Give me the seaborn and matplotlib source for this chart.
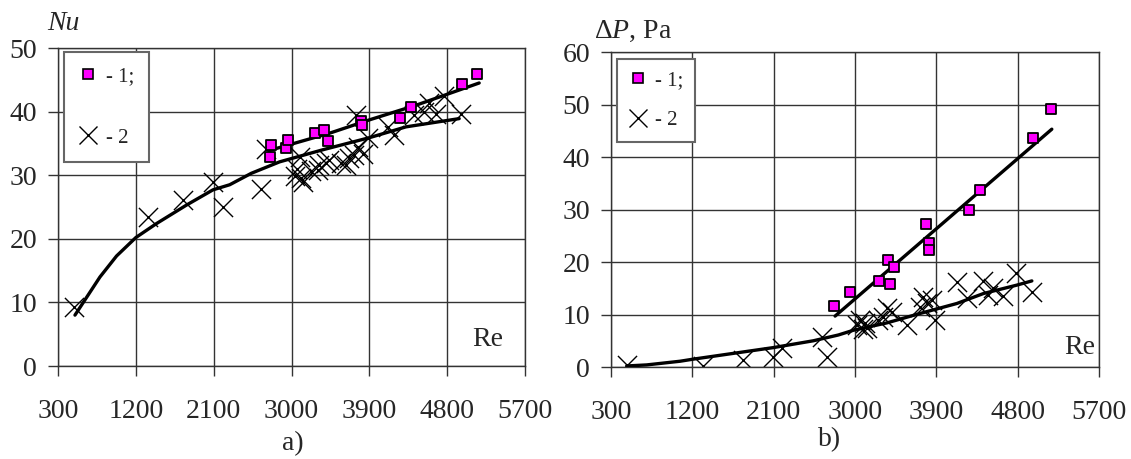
import matplotlib
matplotlib.use("Agg")
import matplotlib.pyplot as plt
import seaborn as sns
import pandas as pd
from matplotlib.lines import Line2D

# panel a) Nu vs Re
nu_re_1 = [2754, 2766, 2939, 2958, 3266, 3381, 3420, 3805, 3816, 4258, 4381, 4966, 5150]
nu_val_1 = [32.9, 34.7, 34.2, 35.6, 36.6, 37.1, 35.4, 38.6, 37.9, 39.0, 40.8, 44.3, 45.9]
nu_re_2 = [485, 1342, 1746, 2092, 2208, 2650, 2708, 3040, 3060, 3093, 3112, 3131, 3227,
           3304, 3323, 3400, 3439, 3574, 3631, 3670, 3727, 3747, 3766, 3823, 3881, 4112,
           4189, 4420, 4535, 4593, 4670, 4766, 4958]
nu_val_2 = [9.2, 23.4, 26.1, 29.0, 25.0, 27.9, 34.1, 29.8, 31.0, 32.9, 29.6, 29.0, 30.6,
            30.8, 31.6, 31.9, 32.4, 31.9, 31.6, 32.7, 33.2, 39.5, 34.5, 33.4, 35.8, 37.6,
            36.3, 39.5, 40.0, 41.3, 39.7, 42.4, 39.7]
nu_fit_re_1 = [2746, 3439, 3900, 4439, 5170]
nu_fit_1 = [33.9, 36.6, 38.7, 41.0, 44.5]
nu_fit_re_2 = [496, 785, 977, 1200, 1439, 1785, 2092, 2285, 2535, 2862, 3362, 3900, 4323, 4939]
nu_fit_2 = [8.0, 14.0, 17.3, 20.2, 22.4, 25.3, 27.7, 28.5, 30.3, 32.1, 34.0, 35.9, 37.6, 38.9]

# panel b) pressure drop vs Re
dp_re_1 = [2769, 2946, 3270, 3370, 3389, 3433, 3784, 3821, 3821, 4266, 4385, 4968, 5168]
dp_val_1 = [11.7, 14.2, 16.3, 20.4, 15.9, 19.0, 27.2, 23.7, 22.3, 29.9, 33.7, 43.6, 49.1]
dp_re_2 = [474, 1322, 1758, 2097, 2190, 2632, 2688, 3020, 3056, 3090, 3110, 3130, 3259,
           3314, 3352, 3407, 3573, 3720, 3757, 3795, 3850, 3887, 4127, 4238, 4422, 4477,
           4532, 4643, 4784, 4957]
dp_val_2 = [0.4, 0.1, 1.3, 2.0, 3.6, 5.8, 2.0, 8.0, 9.0, 7.2, 8.3, 7.5, 9.0,
            9.6, 11.2, 10.5, 8.0, 11.5, 13.4, 12.1, 12.8, 9.0, 16.1, 13.1, 16.3, 13.7,
            15.0, 13.6, 18.0, 14.2]
dp_fit_re_1 = [2780, 5178]
dp_fit_1 = [9.7, 45.3]
dp_fit_re_2 = [474, 695, 1064, 1211, 1654, 2097, 2540, 2816, 2982, 3352, 3720, 4127, 4422, 4791, 4957]
dp_fit_2 = [0.2, 0.4, 1.1, 1.5, 2.6, 3.7, 5.0, 6.1, 7.0, 8.4, 10.2, 12.1, 14.0, 15.6, 16.4]

x_ticks = [300, 1200, 2100, 3000, 3900, 4800, 5700]
legend_labels = ["- 1;", "- 2"]

sns.set_theme(style="white")
plt.rcParams["font.family"] = ["Liberation Serif", "DejaVu Serif"]
plt.rcParams["mathtext.fontset"] = "custom"
plt.rcParams["mathtext.rm"] = "Liberation Serif"
plt.rcParams["mathtext.it"] = "Liberation Serif:italic"

MAGENTA = "#FF00FF"
GRID = "#333333"
FS = 20

fig = plt.figure(figsize=(11.31, 4.59), dpi=100)
ax_a = fig.add_axes([0.0513, 0.2026, 0.4129, 0.6928])
ax_b = fig.add_axes([0.5402, 0.2004, 0.4315, 0.6863])


def draw_panel(ax, re1, v1, re2, v2, fre1, f1, fre2, f2):
    sns.lineplot(x=fre2, y=f2, ax=ax, color="black", lw=2.4, estimator=None, sort=False, zorder=3)
    sns.lineplot(x=fre1, y=f1, ax=ax, color="black", lw=2.4, estimator=None, sort=False, zorder=3)
    sns.scatterplot(x=re2, y=v2, ax=ax, marker="x", s=190, color="black", linewidth=1.0, zorder=2)
    sns.scatterplot(x=re1, y=v1, ax=ax, marker="s", s=62, color=MAGENTA,
                    edgecolor="black", linewidth=1.3, zorder=4)
    ax.set_xlim(300, 5700)
    ax.set_xticks(x_ticks)
    ax.grid(True, color=GRID, lw=1.0)
    ax.set_axisbelow(True)
    for sp in ax.spines.values():
        sp.set_color(GRID)
        sp.set_linewidth(1.0)
    ax.tick_params(axis="both", which="both", direction="out", length=7, width=1,
                   color=GRID, labelsize=FS, bottom=True, left=True)
    ax.tick_params(axis="x", pad=17)
    ax.tick_params(axis="y", pad=8)
    ax.set_xlabel("")
    ax.set_ylabel("")


def add_legend(ax, anchor, spacing, pad):
    handles = [
        Line2D([], [], ls="none", marker="s", markersize=6.5, markerfacecolor=MAGENTA,
               markeredgecolor="black", markeredgewidth=1.2),
        Line2D([], [], ls="none", marker="x", markersize=13, color="black", markeredgewidth=1.0),
    ]
    leg = ax.legend(handles, legend_labels, loc="upper left", bbox_to_anchor=anchor,
                    borderaxespad=0, fontsize=15, labelspacing=spacing, handletextpad=0.4,
                    handlelength=0.9, borderpad=pad, fancybox=False, framealpha=1,
                    edgecolor="#666666")
    leg.get_frame().set_linewidth(1.5)
    leg.set_zorder(10)


draw_panel(ax_a, nu_re_1, nu_val_1, nu_re_2, nu_val_2,
           nu_fit_re_1, nu_fit_1, nu_fit_re_2, nu_fit_2)
ax_a.set_ylim(0, 50)
ax_a.set_yticks([0, 10, 20, 30, 40, 50])
add_legend(ax_a, (0.013, 0.987), 2.0, 0.7)
ax_a.text(0.92, 0.082, "Re", transform=ax_a.transAxes, fontsize=FS,
          ha="center", va="center", zorder=6)

draw_panel(ax_b, dp_re_1, dp_val_1, dp_re_2, dp_val_2,
           dp_fit_re_1, dp_fit_1, dp_fit_re_2, dp_fit_2)
ax_b.set_ylim(0, 60)
ax_b.set_yticks([0, 10, 20, 30, 40, 50, 60])
add_legend(ax_b, (0.012, 0.978), 1.0, 0.55)
ax_b.text(0.993, 0.063, "Re", transform=ax_b.transAxes, fontsize=FS,
          ha="right", va="center", zorder=6,
          bbox=dict(facecolor="white", edgecolor="none", pad=2))

fig.text(63 / 1131, 1 - 23 / 459, "Nu", fontsize=FS, style="italic", ha="center", va="center")
fig.text(633 / 1131, 1 - 31 / 459, "Δ$P$, Pa", fontsize=FS, ha="center", va="center")
fig.text(293 / 1131, 1 - 444 / 459, "a)", fontsize=FS, ha="center", va="center")
fig.text(830 / 1131, 1 - 440 / 459, "b)", fontsize=FS, ha="center", va="center")

fig.savefig("out.png", dpi=100)
